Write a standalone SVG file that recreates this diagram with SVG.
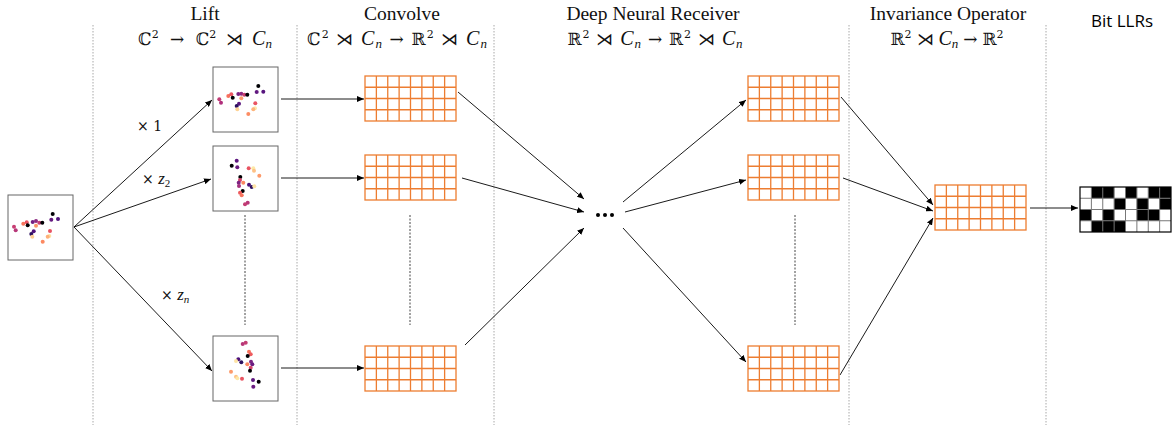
<svg xmlns="http://www.w3.org/2000/svg" xmlns:xlink="http://www.w3.org/1999/xlink" width="1175" height="425" viewBox="0 0 1175 425">
<style>
.hdr{font-family:"Liberation Serif","DejaVu Serif",serif;font-size:19.5px;fill:#111;text-anchor:middle}
.math{font-family:"DejaVu Serif","Liberation Serif",serif;font-size:17px;fill:#111;text-anchor:middle}
.it{font-family:"Liberation Serif","DejaVu Serif",serif;font-style:italic;font-size:20px}
.sub{font-family:"Liberation Serif","DejaVu Serif",serif;font-style:italic;font-size:13px}
.sup{font-size:11px}
.lbl{font-family:"DejaVu Serif","Liberation Serif",serif;font-size:14px;fill:#111}
.lz{font-family:"Liberation Serif","DejaVu Serif",serif;font-style:italic;font-size:17px}
.ls{font-family:"Liberation Serif","DejaVu Serif",serif;font-size:11px}
.llr{font-family:"Open Sans","Liberation Sans",sans-serif;font-size:17px;fill:#000}
.div{stroke:#a8a8a8;stroke-width:1;stroke-dasharray:1.5 1.5;fill:none}
.vdash{stroke:#444;stroke-width:1;stroke-dasharray:2 1.5;fill:none}
.box{fill:#fff;stroke:#666;stroke-width:1}
.grid{fill:none;stroke:#ed7d31;stroke-width:1.3}
.conn{stroke:#000;stroke-width:0.9;fill:none;marker-end:url(#ah)}
</style>
<defs>
<marker id="ah" markerUnits="userSpaceOnUse" markerWidth="7" markerHeight="6" refX="7" refY="3" orient="auto"><path d="M0,0 L7,3 L0,6 z" fill="#000"/></marker>
<g id="gridshape"><rect x="0" y="0" width="91" height="45" class="grid"/><path class="grid" d="M11.375 0V45M22.75 0V45M34.125 0V45M45.5 0V45M56.875 0V45M68.25 0V45M79.625 0V45M0 11.25H91M0 22.5H91M0 33.75H91"/></g>
</defs>
<rect width="1175" height="425" fill="#fff"/>
<g id="dividers">
<line class="div" x1="93" y1="25" x2="93" y2="425"/>
<line class="div" x1="297" y1="25" x2="297" y2="425"/>
<line class="div" x1="494" y1="25" x2="494" y2="425"/>
<line class="div" x1="849" y1="25" x2="849" y2="425"/>
<line class="div" x1="1046" y1="25" x2="1046" y2="425"/>
</g>
<g id="headers">
<text class="hdr" x="205" y="20">Lift</text>
<text class="math" x="205" y="45">ℂ<tspan class="sup" dy="-7">2</tspan><tspan dy="7" dx="6"> → </tspan><tspan dx="6">ℂ</tspan><tspan class="sup" dy="-7">2</tspan><tspan dy="7" dx="4"> ⋊ </tspan><tspan class="it" dx="4">C</tspan><tspan class="sub" dy="3">n</tspan></text>
<text class="hdr" x="402" y="20">Convolve</text>
<text class="math" x="397" y="45" textLength="180" lengthAdjust="spacing">ℂ<tspan class="sup" dy="-7">2</tspan><tspan dy="7"> ⋊ </tspan><tspan class="it">C</tspan><tspan class="sub" dy="3">n</tspan><tspan dy="-3"> → ℝ</tspan><tspan class="sup" dy="-7">2</tspan><tspan dy="7"> ⋊ </tspan><tspan class="it">C</tspan><tspan class="sub" dy="3">n</tspan></text>
<text class="hdr" x="653" y="20">Deep Neural Receiver</text>
<text class="math" x="655" y="45" textLength="175" lengthAdjust="spacing">ℝ<tspan class="sup" dy="-7">2</tspan><tspan dy="7"> ⋊ </tspan><tspan class="it">C</tspan><tspan class="sub" dy="3">n</tspan><tspan dy="-3"> → ℝ</tspan><tspan class="sup" dy="-7">2</tspan><tspan dy="7"> ⋊ </tspan><tspan class="it">C</tspan><tspan class="sub" dy="3">n</tspan></text>
<text class="hdr" x="948" y="20">Invariance Operator</text>
<text class="math" x="947" y="45" textLength="113" lengthAdjust="spacing">ℝ<tspan class="sup" dy="-7">2</tspan><tspan dy="7"> ⋊ </tspan><tspan class="it">C</tspan><tspan class="sub" dy="3">n</tspan><tspan dy="-3"> → ℝ</tspan><tspan class="sup" dy="-7">2</tspan></text>
<text class="llr" x="1122" y="27" text-anchor="middle">Bit LLRs</text>
</g>
<g id="connectors">
<path class="conn" d="M74 227 L212 100"/>
<path class="conn" d="M74 227 L211 179"/>
<path class="conn" d="M74 227 L212 371"/>
<path class="conn" d="M281 99 H364"/>
<path class="conn" d="M281 178 H364"/>
<path class="conn" d="M281 368 H364"/>
<path class="conn" d="M458 92 L584 199"/>
<path class="conn" d="M462 178 L584 212"/>
<path class="conn" d="M465 345 L584 228"/>
<path class="conn" d="M623 202 L746 100"/>
<path class="conn" d="M625 212 L746 180"/>
<path class="conn" d="M623 228 L746 362"/>
<path class="conn" d="M841 97 L933 205"/>
<path class="conn" d="M843 178 L933 211"/>
<path class="conn" d="M840 375 L933 218"/>
<path class="conn" d="M1030 208 H1078"/>
</g>
<g id="labels">
<text class="lbl" x="137" y="131">× 1</text>
<text class="lbl" x="142" y="184">× <tspan class="lz">z</tspan><tspan class="ls" dy="3">2</tspan></text>
<text class="lbl" x="161" y="300">× <tspan class="lz">z</tspan><tspan class="ls lz" font-size="12" dy="3">n</tspan></text>
</g>
<g id="input">
<rect class="box" x="8" y="195" width="65" height="65"/>
<circle cx="14" cy="226.7" r="2" fill="#c83e73"/><circle cx="15.7" cy="230.3" r="2" fill="#b73779"/><circle cx="23.3" cy="223.7" r="2" fill="#f8765c"/><circle cx="26.7" cy="222.3" r="2" fill="#e95462"/><circle cx="27.7" cy="225.3" r="2" fill="#000004"/><circle cx="32.7" cy="222" r="2" fill="#721f81"/><circle cx="36" cy="221" r="2" fill="#8c2981"/><circle cx="39.3" cy="222.7" r="2" fill="#c43c75"/><circle cx="42.3" cy="222.7" r="2" fill="#000004"/><circle cx="36" cy="225.7" r="2" fill="#fd9668"/><circle cx="33.7" cy="231.3" r="2" fill="#51127c"/><circle cx="31.3" cy="234" r="2" fill="#2c115f"/><circle cx="32.3" cy="236.7" r="2" fill="#fecf92"/><circle cx="52.7" cy="214" r="2" fill="#000004"/><circle cx="51.3" cy="219.7" r="2" fill="#641a80"/><circle cx="58" cy="219" r="2" fill="#4f127b"/><circle cx="50" cy="231" r="2" fill="#e85362"/><circle cx="49.3" cy="236" r="2" fill="#fde2a3"/><circle cx="47.7" cy="236.7" r="2" fill="#feb078"/><circle cx="42.7" cy="241.7" r="2" fill="#fc8961"/>
</g>
<g id="lift1">
<rect class="box" x="213" y="67" width="65" height="65"/>
<circle cx="219.3" cy="99.3" r="2" fill="#c13b75"/><circle cx="221" cy="102.7" r="2" fill="#b02f7c"/><circle cx="228.3" cy="96" r="2" fill="#f7705c"/><circle cx="231.3" cy="94.3" r="2" fill="#ea5661"/><circle cx="232.7" cy="97.7" r="2" fill="#000004"/><circle cx="238.3" cy="94" r="2" fill="#7a2282"/><circle cx="241.3" cy="93.7" r="2" fill="#8e2a81"/><circle cx="244.3" cy="94.7" r="2" fill="#c8406f"/><circle cx="247.3" cy="94.7" r="2" fill="#000004"/><circle cx="241.3" cy="98.3" r="2" fill="#fd9a6a"/><circle cx="239" cy="103.7" r="2" fill="#5a167e"/><circle cx="236.7" cy="106" r="2" fill="#2c115f"/><circle cx="237.3" cy="109.3" r="2" fill="#fed395"/><circle cx="258.3" cy="86" r="2" fill="#000004"/><circle cx="256.7" cy="92" r="2" fill="#621980"/><circle cx="263.3" cy="91.7" r="2" fill="#57157e"/><circle cx="255.3" cy="103.3" r="2" fill="#e95462"/><circle cx="255" cy="108.3" r="2" fill="#fde9aa"/><circle cx="253.3" cy="109.3" r="2" fill="#feb47b"/><circle cx="248.3" cy="114" r="2" fill="#fc8c63"/>
</g>
<g id="lift2">
<rect class="box" x="213" y="146" width="65" height="65"/>
<circle cx="236.7" cy="160.7" r="2" fill="#5d177f"/><circle cx="231.7" cy="165.7" r="2" fill="#000004"/><circle cx="237.3" cy="167.3" r="2" fill="#6a1c81"/><circle cx="248.7" cy="168.3" r="2" fill="#e95462"/><circle cx="253.3" cy="168.3" r="2" fill="#fde8a6"/><circle cx="254" cy="170.7" r="2" fill="#fec185"/><circle cx="259.3" cy="175.7" r="2" fill="#fd9a6a"/><circle cx="240.3" cy="177" r="2" fill="#000004"/><circle cx="240" cy="180" r="2" fill="#d6456c"/><circle cx="238.7" cy="182.7" r="2" fill="#7b2382"/><circle cx="243.3" cy="182.7" r="2" fill="#fb8761"/><circle cx="239" cy="186" r="2" fill="#a3307e"/><circle cx="249" cy="184.7" r="2" fill="#4a1079"/><circle cx="251.7" cy="187" r="2" fill="#2c115f"/><circle cx="254.3" cy="186.3" r="2" fill="#fee3a5"/><circle cx="242.7" cy="191" r="2" fill="#000004"/><circle cx="240" cy="192.7" r="2" fill="#ee5b5e"/><circle cx="241.7" cy="195.3" r="2" fill="#f7735c"/><circle cx="247.7" cy="202.7" r="2" fill="#b73779"/><circle cx="245" cy="204.3" r="2" fill="#c33d73"/>
</g>
<g id="lift3">
<rect class="box" x="213" y="336" width="65" height="65"/>
<circle cx="242.7" cy="344" r="2" fill="#b73779"/><circle cx="245.7" cy="342.7" r="2" fill="#c33d73"/><circle cx="249" cy="351.7" r="2" fill="#f7735c"/><circle cx="250.7" cy="354.3" r="2" fill="#ee5b5e"/><circle cx="247.7" cy="356" r="2" fill="#000004"/><circle cx="238.3" cy="359.3" r="2" fill="#4a1079"/><circle cx="241.3" cy="362.3" r="2" fill="#2c115f"/><circle cx="236" cy="361" r="2" fill="#fee3a5"/><circle cx="251" cy="361.7" r="2" fill="#7b2382"/><circle cx="252.3" cy="364.3" r="2" fill="#6a1c81"/><circle cx="247.3" cy="364.3" r="2" fill="#fb8761"/><circle cx="250.7" cy="367.7" r="2" fill="#d6456c"/><circle cx="250" cy="370.7" r="2" fill="#000004"/><circle cx="231" cy="371.7" r="2" fill="#fd9a6a"/><circle cx="236" cy="376.7" r="2" fill="#fec185"/><circle cx="237.3" cy="378.3" r="2" fill="#fde8a6"/><circle cx="242" cy="378.7" r="2" fill="#e95462"/><circle cx="253" cy="380" r="2" fill="#5d177f"/><circle cx="258.7" cy="381.7" r="2" fill="#000004"/><circle cx="253.3" cy="386.7" r="2" fill="#6a1c81"/>
</g>
<g id="lift-ellipsis"><line class="vdash" x1="245" y1="215" x2="245" y2="325"/></g>
<g id="conv1"><use xlink:href="#gridshape" x="365" y="76"/></g>
<g id="conv2"><use xlink:href="#gridshape" x="365" y="155"/></g>
<g id="conv3"><use xlink:href="#gridshape" x="365" y="346"/></g>
<g id="conv-ellipsis"><line class="vdash" x1="410" y1="215" x2="410" y2="325"/></g>
<g id="dnr-dots"><circle cx="598" cy="215" r="2" fill="#000"/><circle cx="605" cy="215" r="2" fill="#000"/><circle cx="612" cy="215" r="2" fill="#000"/></g>
<g id="dnr1"><use xlink:href="#gridshape" x="748" y="76"/></g>
<g id="dnr2"><use xlink:href="#gridshape" x="748" y="155"/></g>
<g id="dnr3"><use xlink:href="#gridshape" x="748" y="346"/></g>
<g id="dnr-ellipsis"><line class="vdash" x1="795" y1="215" x2="795" y2="325"/></g>
<g id="invariance"><use xlink:href="#gridshape" x="935" y="185"/></g>
<g id="bitllrs" transform="translate(1080,187)">
<g fill="#000">
<rect x="11.375" y="0" width="22.75" height="11.25"/><rect x="45.5" y="0" width="11.375" height="11.25"/><rect x="68.25" y="0" width="22.75" height="11.25"/>
<rect x="34.125" y="11.25" width="11.375" height="11.25"/><rect x="56.875" y="11.25" width="11.375" height="11.25"/><rect x="79.625" y="11.25" width="11.375" height="11.25"/>
<rect x="0" y="22.5" width="11.375" height="11.25"/><rect x="22.75" y="22.5" width="11.375" height="11.25"/><rect x="56.875" y="22.5" width="22.75" height="11.25"/>
<rect x="11.375" y="33.75" width="34.125" height="11.25"/>
</g>
<path fill="none" stroke="#777" stroke-width="1" d="M11.375 0V45M22.75 0V45M34.125 0V45M45.5 0V45M56.875 0V45M68.25 0V45M79.625 0V45M0 11.25H91M0 22.5H91M0 33.75H91"/>
<rect x="0" y="0" width="91" height="45" fill="none" stroke="#000" stroke-width="1.2"/>
</g>
</svg>
